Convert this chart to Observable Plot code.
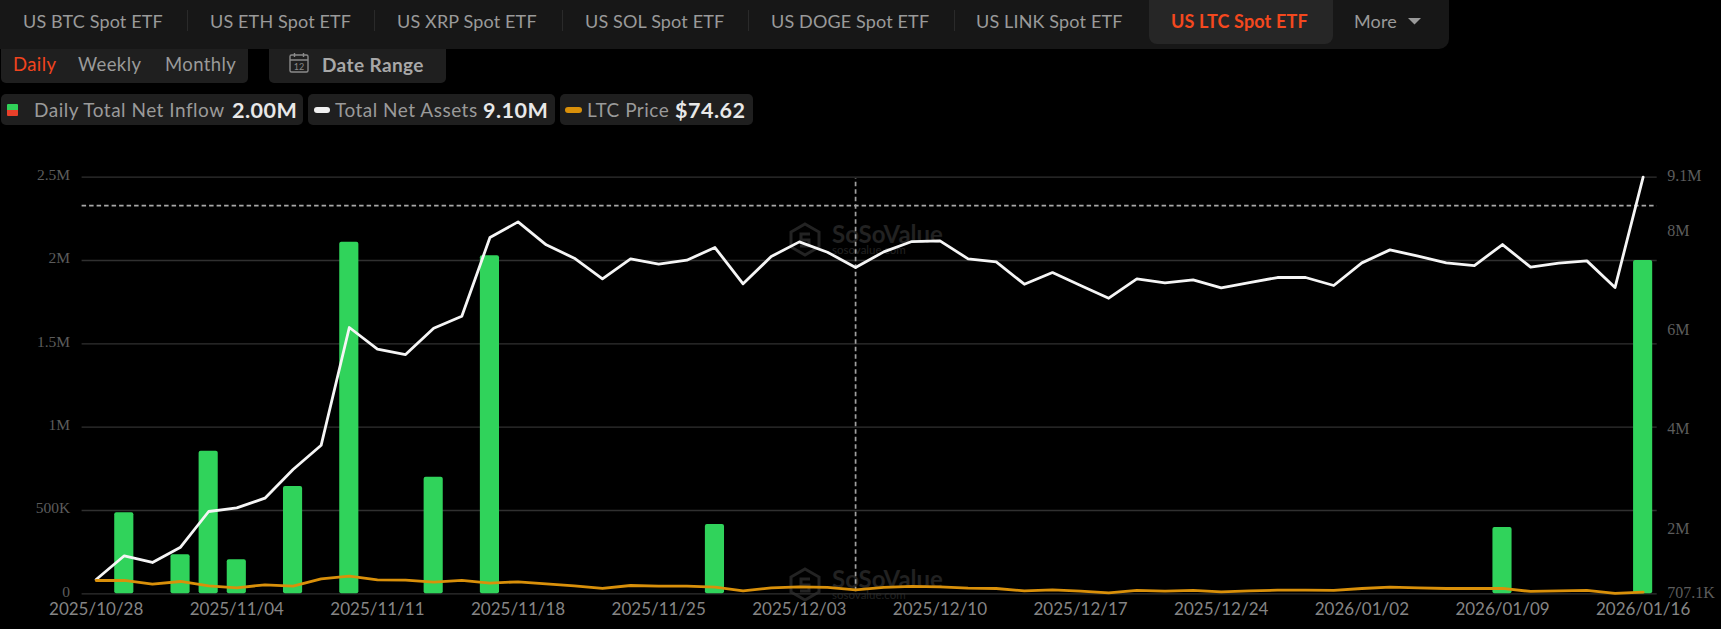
<!DOCTYPE html>
<html><head><meta charset="utf-8">
<script src="https://cdn.jsdelivr.net/npm/d3@7"></script>
<script src="https://cdn.jsdelivr.net/npm/@observablehq/plot@0.6"></script>
<style>
html,body{margin:0;padding:0;background:#000;width:1721px;height:629px;overflow:hidden;font-family:Lato,sans-serif}
.a{position:absolute;white-space:nowrap;line-height:1}
.box{position:absolute;background:#1f1f1f}
.t{position:absolute;white-space:nowrap;line-height:20px;height:20px;transform:translateY(-10px)}
#chart{position:absolute;left:0;top:150px}
#chart svg{background:transparent;display:block}
.wm{position:absolute;color:#222;font-family:Lato,sans-serif;white-space:nowrap}
</style></head><body>
<div class="box" style="left:0;top:0;width:1449px;height:49px;background:#171717;border-bottom-right-radius:10px"></div>
<div class="box" style="left:1149px;top:0;width:184px;height:44px;background:#262626;border-radius:0 0 8px 8px"></div>
<div id="tabs"></div>
<div class="box" style="left:1px;top:49px;width:247px;height:34px;border-radius:0 0 5px 5px"></div>
<div class="box" style="left:269px;top:49px;width:177px;height:34px;border-radius:0 0 5px 5px"></div>
<div id="periods"></div>
<svg class="a" style="left:288px;top:51px" width="22" height="23" viewBox="0 0 22 23" fill="none" stroke="#8a8a8a" stroke-width="1.4"><rect x="2" y="4" width="18" height="17" rx="1.5"/><path d="M2 9H20M6.500 2V6M15.500 2V6"/><text x="11" y="18.500" font-size="9" fill="#8a8a8a" stroke="none" text-anchor="middle" font-family="Lato">12</text></svg>
<div class="t" style="left:322px;top:65px;font-size:19px;font-weight:700;color:#a8a8a8;letter-spacing:.4px">Date Range</div>
<div class="box" style="left:1px;top:94px;width:302px;height:31px;border-radius:5px"></div>
<div class="box" style="left:308px;top:94px;width:247px;height:31px;border-radius:5px"></div>
<div class="box" style="left:560px;top:94px;width:193px;height:31px;border-radius:5px"></div>
<div class="box" style="left:7px;top:104px;width:11px;height:6px;background:#30d158;border-radius:1px 1px 0 0"></div>
<div class="box" style="left:7px;top:110px;width:11px;height:6px;background:#e8402a;border-radius:0 0 1px 1px"></div>
<div class="box" style="left:314px;top:107px;width:16px;height:6px;background:#f0f0f0;border-radius:3px"></div>
<div class="box" style="left:565px;top:107px;width:17px;height:6px;background:#d9900a;border-radius:3px"></div>
<div id="chips"></div>
<svg class="a" style="left:1408px;top:18px" width="13" height="7"><path d="M0 0H13L6.500 6.500Z" fill="#9a9a9a"/></svg>
<div id="wm"></div>
<div id="chart"></div>
<script>
// ---------- data ----------
const days = ["2025/10/28","2025/10/29","2025/10/30","2025/10/31","2025/11/03","2025/11/04","2025/11/05","2025/11/06","2025/11/07","2025/11/10","2025/11/11","2025/11/12","2025/11/13","2025/11/14","2025/11/17","2025/11/18","2025/11/19","2025/11/20","2025/11/21","2025/11/24","2025/11/25","2025/11/26","2025/11/28","2025/12/01","2025/12/02","2025/12/03","2025/12/04","2025/12/05","2025/12/08","2025/12/09","2025/12/10","2025/12/11","2025/12/12","2025/12/15","2025/12/16","2025/12/17","2025/12/18","2025/12/19","2025/12/22","2025/12/23","2025/12/24","2025/12/26","2025/12/29","2025/12/30","2025/12/31","2026/01/02","2026/01/05","2026/01/06","2026/01/07","2026/01/08","2026/01/09","2026/01/12","2026/01/13","2026/01/14","2026/01/15","2026/01/16"];
const inflowM = [0,0.486,0,0.234,0.856,0.204,0,0.644,0,2.11,0,0,0.70,0,2.028,0,0,0,0,0,0,0,0.416,0,0,0,0,0,0,0,0,0,0,0,0,0,0,0,0,0,0,0,0,0,0,0,0,0,0,0,0.398,0,0,0,0,2.00];
const assetsM = [0.996,1.473,1.338,1.647,2.365,2.439,2.634,3.211,3.701,6.072,5.635,5.528,6.058,6.300,7.884,8.200,7.737,7.468,7.052,7.455,7.347,7.428,7.683,6.951,7.502,7.797,7.589,7.280,7.596,7.804,7.817,7.455,7.394,6.944,7.179,6.918,6.662,7.052,6.971,7.032,6.871,6.978,7.079,7.079,6.918,7.374,7.636,7.508,7.374,7.320,7.743,7.287,7.367,7.414,6.877,9.10];
const price = [97.6,97.6,90.4,95.6,87.1,83.1,89.1,86.4,100.9,106.2,98.9,98.3,94.3,97.6,92.4,95.0,91.0,87.1,81.8,87.7,86.4,86.4,84.5,77.2,83.1,85.1,83.8,79.2,83.8,85.8,85.1,82.5,81.8,77.2,79.2,76.6,73.3,77.9,76.6,77.9,75.2,77.2,78.5,78.5,77.9,81.8,84.5,83.1,81.8,81.8,81.8,75.9,77.2,77.9,72.0,74.62];
const xTickDays = ["2025/10/28","2025/11/04","2025/11/11","2025/11/18","2025/11/25","2025/12/03","2025/12/10","2025/12/17","2025/12/24","2026/01/02","2026/01/09","2026/01/16"];
const leftTicks = [0,0.5,1,1.5,2,2.5];
const leftLabels = ["0","500K","1M","1.5M","2M","2.5M"];
const rightTicks = [0.7071,2,4,6,8,9.1];
const rightLabels = ["707.1K","2M","4M","6M","8M","9.1M"];
const crossDay = "2025/12/05";
const crossLevel = 2.33;
const tabs = ["US BTC Spot ETF","US ETH Spot ETF","US XRP Spot ETF","US SOL Spot ETF","US DOGE Spot ETF","US LINK Spot ETF","US LTC Spot ETF","More"];
const periods = ["Daily","Weekly","Monthly"];

// ---------- header ----------
const tabX = [23,210,397,585,771,976,1171,1354];
document.getElementById("tabs").innerHTML = tabs.map((s,i)=>{
  const on = i===6;
  return `<div class="t" style="left:${tabX[i]}px;top:21px;font-size:18px;letter-spacing:.15px;color:${on?"#f4481e":"#9a9a9a"};font-weight:${on?700:400}">${s}</div>`;
}).join("") + [187,374,562,748,954].map(x=>`<div class="box" style="left:${x}px;top:10px;width:1px;height:21px;background:#2a2a2a"></div>`).join("");
const perX = [13,78,165];
document.getElementById("periods").innerHTML = periods.map((s,i)=>
  `<div class="t" style="left:${perX[i]}px;top:64px;font-size:18.500px;letter-spacing:.4px;color:${i===0?"#f0441e":"#9a9a9a"}">${s}</div>`).join("");
const chip = (x,s,c,w,sz)=>`<div class="t" style="left:${x}px;top:110px;font-size:${sz}px;color:${c};font-weight:${w};letter-spacing:.5px">${s}</div>`;
document.getElementById("chips").innerHTML =
  chip(34,"Daily Total Net Inflow","#9a9a9a",400,19)+chip(232,"2.00M","#e8e8e8",700,21.5)+
  chip(335,"Total Net Assets","#9a9a9a",400,19)+chip(483,"9.10M","#e8e8e8",700,21.5)+
  chip(587,"LTC Price","#9a9a9a",400,19)+chip(675,"$74.62","#e8e8e8",700,21.5);

// watermarks
const wm = top => `<svg class="a" style="left:789px;top:${top}px" width="32" height="35" viewBox="0 0 32 35" fill="none" stroke="#232323" stroke-width="3"><path d="M16 2L30 10V25L16 33L2 25V10Z"/><path d="M21 12H12V18H20V24H11"/></svg>
<div class="wm" style="left:832px;top:${top}px;font-size:24px;line-height:23px;height:23px;font-weight:700">SoSoValue</div>
<div class="wm" style="left:832px;top:${top+23}px;font-size:11.500px;line-height:10px;height:10px">sosovalue.com</div>`;
document.getElementById("wm").innerHTML = wm(222)+wm(567);

// ---------- chart ----------
const table = days.map((day,i)=>({day,inflow:inflowM[i],assets:assetsM[i],price:price[i]}));
const assetsToLeft = d3.scaleLinear().domain([0.7071,9.1]).range([0,2.5]);
const priceToLeft = d3.scaleLinear().domain([71.3,893.7]).range([0,2.5]);
const chart = Plot.plot({
  width:1721,height:479,
  marginLeft:81.6,marginRight:64.3,marginTop:26.7,marginBottom:35.7,
  style:{background:"transparent"},
  x:{type:"band",domain:days,paddingInner:.32,paddingOuter:.16,round:false,label:null},
  y:{domain:[0,2.5],range:[443.3,26.7],label:null},
  marks:[
    Plot.ruleY(leftTicks,{stroke:"#303030",strokeWidth:1.3}),
    Plot.ruleY([crossLevel],{stroke:"#a8a8a8",strokeWidth:1.7,strokeDasharray:"4.500 3"}),
    Plot.ruleX([crossDay],{y1:0.012,y2:2.49,stroke:"#a0a0a0",strokeWidth:1.7,strokeDasharray:"4.500 3"}),
    Plot.barY(table.filter(d=>d.inflow>0),{x:"day",y:"inflow",fill:"#30d35b",rx:2}),
    Plot.line(table,{x:"day",y:d=>assetsToLeft(d.assets),stroke:"#f5f5f5",strokeWidth:2.8,curve:"linear"}),
    Plot.line(table,{x:"day",y:d=>priceToLeft(d.price),stroke:"#d9900a",strokeWidth:2.8,curve:"linear"}),
    Plot.axisX(xTickDays,{anchor:"bottom",tickSize:0,tickPadding:9,label:null,fontSize:17,fill:"#858585",fontFamily:"Lato"}),
    Plot.axisY(leftTicks,{anchor:"left",tickSize:0,tickPadding:12,label:null,dy:-2,tickFormat:d=>leftLabels[leftTicks.indexOf(d)],fontSize:15.5,fill:"#5c5c5c",fontFamily:"Liberation Serif"}),
    Plot.axisY(rightTicks.map(v=>assetsToLeft(v)),{anchor:"right",tickSize:0,tickPadding:10,label:null,dy:-1,
      tickFormat:d=>rightLabels[rightTicks.findIndex(v=>Math.abs(assetsToLeft(v)-d)<1e-9)],fontSize:16,fill:"#5c5c5c",fontFamily:"Liberation Serif"})
  ]
});
document.getElementById("chart").appendChild(chart);
</script>
</body></html>
